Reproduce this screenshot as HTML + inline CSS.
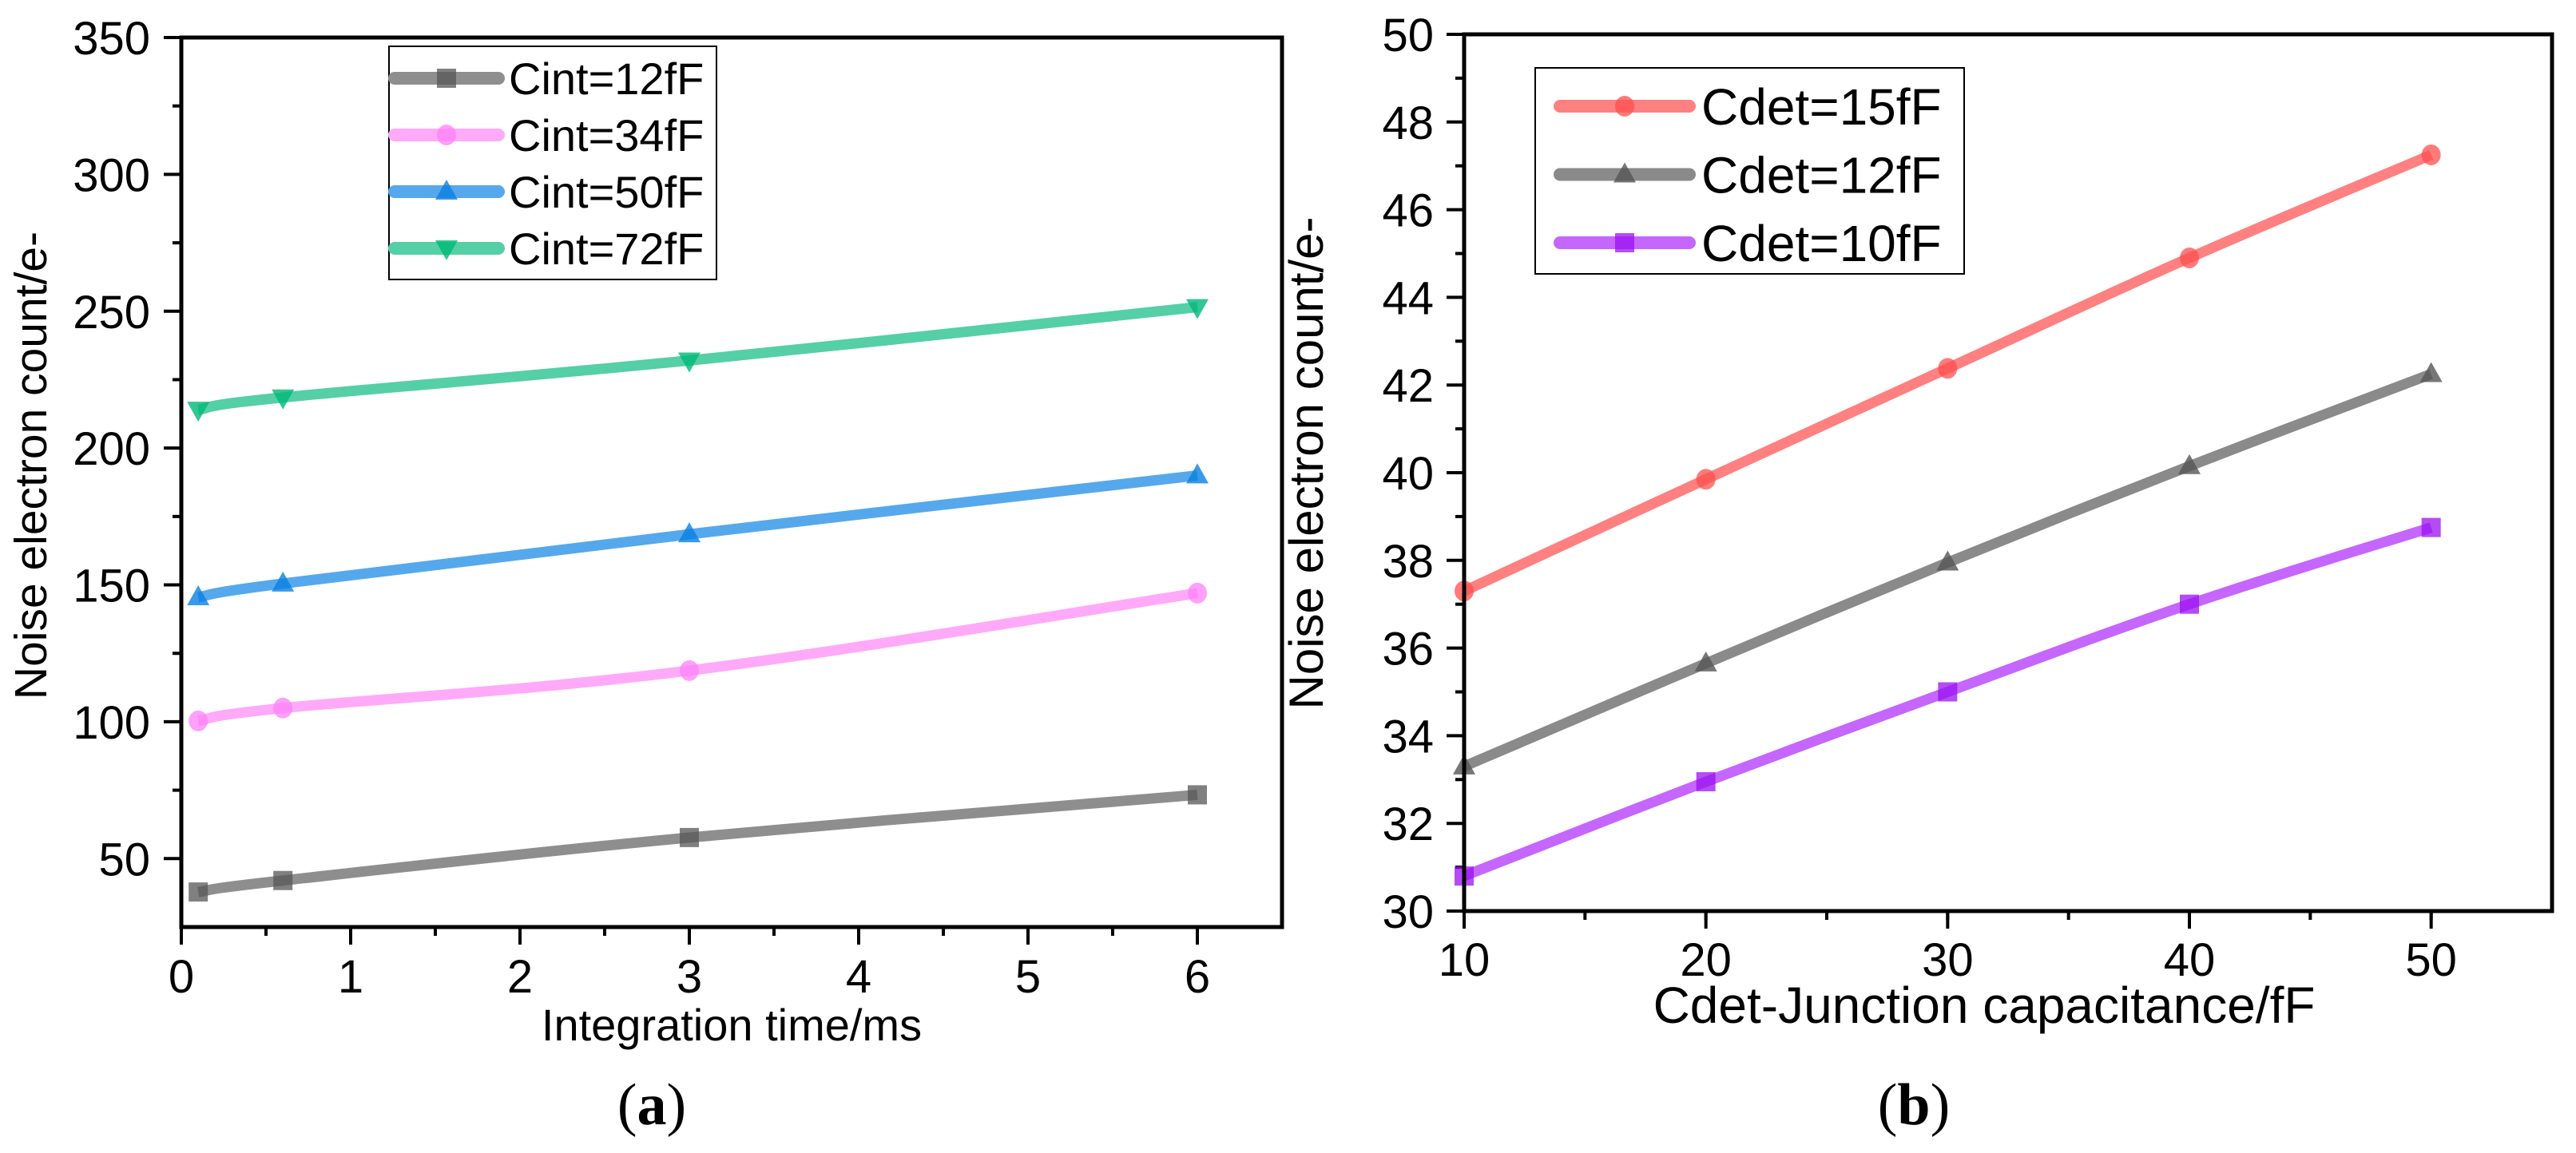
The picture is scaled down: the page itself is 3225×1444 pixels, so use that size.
<!DOCTYPE html>
<html><head><meta charset="utf-8"><style>
html,body{margin:0;padding:0;background:#fff;}
svg{display:block;font-family:"Liberation Sans",Arial,sans-serif;}
</style></head><body>
<svg id="fig" width="3225" height="1444" viewBox="0 0 3225 1444" xmlns="http://www.w3.org/2000/svg">
<rect width="3225" height="1444" fill="#fff"/>
<g id="ga"></g>
<g id="gb"></g>
</svg>
<script>
// ---- Chart (a) data ----
const aX = [0.1, 0.6, 3, 6];
const aNames = ["Cint=12fF","Cint=34fF","Cint=50fF","Cint=72fF"];
const aC12 = [37.8, 42, 57.7, 73.3];
const aC34 = [100.3, 105, 118.7, 147];
const aC50 = [145.5, 150.5, 168.5, 190];
const aC72 = [214, 218.5, 232, 251.5];
const aXTicks = [0,1,2,3,4,5,6];
const aYTicks = [50,100,150,200,250,300,350];
// ---- Chart (b) data ----
const bX = [10, 20, 30, 40, 50];
const bNames = ["Cdet=15fF","Cdet=12fF","Cdet=10fF"];
const bC15 = [37.3, 39.85, 42.38, 44.9, 47.25];
const bC12 = [33.3, 35.65, 37.95, 40.15, 42.25];
const bC10 = [30.8, 32.95, 35.0, 37.0, 38.75];
const bXTicks = [10,20,30,40,50];
const bYTicks = [30,32,34,36,38,40,42,44,46,48,50];

const NS="http://www.w3.org/2000/svg";
function mk(parent, tag, attrs, text){
  const e=document.createElementNS(NS,tag);
  for(const k in attrs) e.setAttribute(k, attrs[k]);
  if(text!==undefined) e.textContent=text;
  parent.appendChild(e); return e;
}
function smoothPath(pts){
  let d="M"+pts[0][0]+","+pts[0][1];
  for(let i=0;i<pts.length-1;i++){
    const p0=pts[Math.max(0,i-1)],p1=pts[i],p2=pts[i+1],p3=pts[Math.min(pts.length-1,i+2)];
    const t=0.18;
    const c1=[p1[0]+(p2[0]-p0[0])*t,p1[1]+(p2[1]-p0[1])*t];
    const c2=[p2[0]-(p3[0]-p1[0])*t,p2[1]-(p3[1]-p1[1])*t];
    d+=" C"+c1[0]+","+c1[1]+" "+c2[0]+","+c2[1]+" "+p2[0]+","+p2[1];
  }
  return d;
}
function marker(g, shape, x, y, col){
  let m;
  if(shape==="square") m=mk(g,"rect",{x:x-12,y:y-12,width:24,height:24,fill:col,"fill-opacity":0.75});
  else if(shape==="circle") m=mk(g,"ellipse",{cx:x,cy:y,rx:12,ry:13,fill:col,"fill-opacity":0.75});
  else if(shape==="up") m=mk(g,"polygon",{points:`${x},${y-15} ${x-14},${y+10} ${x+14},${y+10}`,fill:col,"fill-opacity":0.8});
  else m=mk(g,"polygon",{points:`${x},${y+15} ${x-14},${y-10} ${x+14},${y-10}`,fill:col,"fill-opacity":0.8});
  return m;
}
function chart(g, cfg){
  const sx=v=>cfg.L+(v-cfg.x0)/(cfg.x1-cfg.x0)*(cfg.R-cfg.L);
  const sy=v=>cfg.B-(v-cfg.y0)/(cfg.y1-cfg.y0)*(cfg.B-cfg.T);
  // ticks
  cfg.xTicks.forEach(t=>{
    const tk=mk(g,"line",{x1:sx(t),x2:sx(t),y1:cfg.B,y2:cfg.B+22,stroke:"#000","stroke-width":4});
    
    
    const lb=mk(g,"text",{x:sx(t),y:cfg.xLabY,"text-anchor":"middle","font-size":cfg.tickFs},String(t));
    
    
  });
  for(let v=cfg.x0+cfg.xMinor; v<cfg.x1-1e-9; v+=cfg.xMinor){
    const tk=mk(g,"line",{x1:sx(v),x2:sx(v),y1:cfg.B,y2:cfg.B+11,stroke:"#000","stroke-width":4});
    
    
  }
  cfg.yTicks.forEach(t=>{
    const tk=mk(g,"line",{x1:cfg.L-22,x2:cfg.L,y1:sy(t),y2:sy(t),stroke:"#000","stroke-width":4});
    
    
    const lb=mk(g,"text",{x:cfg.yLabX,y:sy(t)+21,"text-anchor":"end","font-size":cfg.tickFs},String(t));
    
    
  });
  for(let v=cfg.yMinorStart; v<cfg.y1; v+=cfg.yMinor){
    if(cfg.yTicks.some(t=>Math.abs(t-v)<1e-6)) continue;
    const tk=mk(g,"line",{x1:cfg.L-11,x2:cfg.L,y1:sy(v),y2:sy(v),stroke:"#000","stroke-width":4});
    
    
  }
  // series
  cfg.series.forEach(s=>{
    const sg=mk(g,"g",{});
    
    
    const pts=cfg.xs.map((x,i)=>[sx(x),sy(s.vals[i])]);
    const ln=mk(sg,"path",{d:smoothPath(pts),fill:"none",stroke:s.line,"stroke-width":13,"stroke-linejoin":"round"});
    
    
    pts.forEach(p=>{
      const m=marker(sg,s.shape,p[0],p[1],s.mark);
      
      
    });
  });
  // frame
  const fr=mk(g,"rect",{x:cfg.L,y:cfg.T,width:cfg.R-cfg.L,height:cfg.B-cfg.T,fill:"none",stroke:"#000","stroke-width":5});
  
  
  // legend
  const lg=mk(g,"g",{});
  
  
  mk(lg,"rect",{x:cfg.lg.x,y:cfg.lg.y,width:cfg.lg.w,height:cfg.lg.h,fill:"#fff",stroke:"#000","stroke-width":2});
  cfg.series.forEach((s,i)=>{
    const y=cfg.lg.r0+i*cfg.lg.dr;
    const e=mk(lg,"g",{});
    
    
    mk(e,"line",{x1:cfg.lg.l1,x2:cfg.lg.l2,y1:y,y2:y,stroke:s.line,"stroke-width":16,"stroke-linecap":"round"});
    marker(e,s.shape,(cfg.lg.l1+cfg.lg.l2)/2,y,s.mark);
    mk(e,"text",{x:cfg.lg.tx,y:y+cfg.lg.fs*0.36,"font-size":cfg.lg.fs},s.name);
  });
  // titles
  const xt=mk(g,"text",{x:cfg.xt.x,y:cfg.xt.y,"text-anchor":"middle","font-size":cfg.xt.fs},cfg.xt.t);
  
  
  const yt=mk(g,"text",{transform:`translate(${cfg.yt.x},${cfg.yt.y}) rotate(-90)`,"text-anchor":"middle","font-size":cfg.yt.fs},cfg.yt.t);
  
  
  const cp=mk(g,"text",{x:cfg.cap.x,y:1408,"text-anchor":"middle","font-size":74,"font-family":"Liberation Serif, serif"});
  
  
  mk(cp,"tspan",{},"(");
  mk(cp,"tspan",{"font-weight":"bold"},cfg.cap.t);
  mk(cp,"tspan",{},")");
}
chart(document.getElementById("ga"),{
  L:227,R:1605,T:47,B:1161,x0:0,x1:6.5,y0:25,y1:350,
  xs:aX,xTicks:aXTicks,yTicks:aYTicks,xMinor:0.5,yMinor:25,yMinorStart:50,
  tickFs:58,xLabY:1243,yLabX:188,
  series:[
    {key:"cint-12",name:aNames[0],vals:aC12,line:"#8e8e8e",mark:"#555",shape:"square"},
    {key:"cint-34",name:aNames[1],vals:aC34,line:"#ffaaf8",mark:"#ff80f8",shape:"circle"},
    {key:"cint-50",name:aNames[2],vals:aC50,line:"#55a8ec",mark:"#0a80e2",shape:"up"},
    {key:"cint-72",name:aNames[3],vals:aC72,line:"#55cfa5",mark:"#00b878",shape:"down"}
  ],
  lg:{x:487,y:58,w:410,h:292,r0:98,dr:71,l1:494,l2:624,tx:637,fs:56},
  xt:{x:916,y:1303,fs:56,t:"Integration time/ms"},
  yt:{x:58,y:583,fs:57,t:"Noise electron count/e-"},
  cap:{x:816,t:"a"}
});
chart(document.getElementById("gb"),{
  L:1833,R:3195,T:43,B:1141,x0:10,x1:55,y0:30,y1:50,
  xs:bX,xTicks:bXTicks,yTicks:bYTicks,xMinor:5,yMinor:1,yMinorStart:31,
  tickFs:58,xLabY:1222,yLabX:1795,
  series:[
    {key:"cdet-15",name:bNames[0],vals:bC15,line:"#ff8080",mark:"#ff4f4f",shape:"circle"},
    {key:"cdet-12",name:bNames[1],vals:bC12,line:"#8a8a8a",mark:"#555",shape:"up"},
    {key:"cdet-10",name:bNames[2],vals:bC10,line:"#c566ff",mark:"#9a10f0",shape:"square"}
  ],
  lg:{x:1922,y:85,w:537,h:258,r0:133,dr:85.5,l1:1953,l2:2115,tx:2130,fs:64},
  xt:{x:2484,y:1281,fs:64,t:"Cdet-Junction capacitance/fF"},
  yt:{x:1656,y:580,fs:60,t:"Noise electron count/e-"},
  cap:{x:2396,t:"b"}
});
</script>
</body></html>
